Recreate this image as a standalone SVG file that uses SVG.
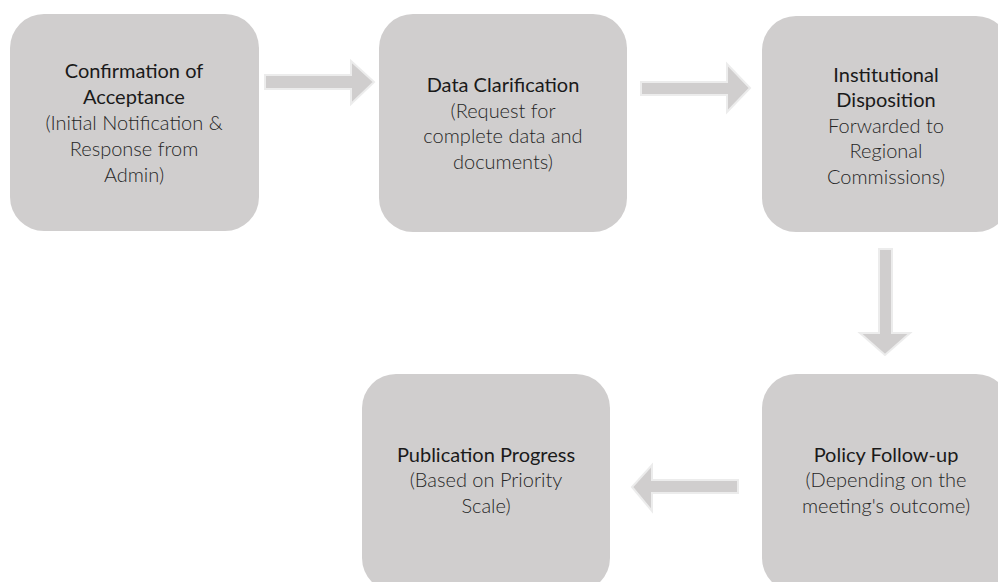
<svg xmlns="http://www.w3.org/2000/svg" width="998" height="582" viewBox="0 0 998 582">
<style>
.box{fill:#d0cece;}
.arr{fill:#d0cece;stroke:#ececec;stroke-width:2;stroke-linejoin:miter;}
text{font-family:Lato,"Liberation Sans",sans-serif;font-size:20px;text-anchor:middle;}
.t{fill:#1a1a1a;font-weight:400;}
.s{fill:#262626;font-weight:300;}
</style>
<rect width="998" height="582" fill="#ffffff"/>
<g id="connectors">
<polygon class="arr" points="265,75 351,75 351,61 374,82 351,104 351,89 265,89"/>
<polygon class="arr" points="641,82 727,82 727,64 750,88 727,112 727,95 641,95"/>
<polygon class="arr" points="879,249 892,249 892,333 910,333 885,355 860,333 879,333"/>
<polygon class="arr" points="738,480 652,480 652,465 632,487 652,511 652,493 738,493"/>
</g>
<g id="node1">
<rect class="box" x="10" y="14" width="249" height="217" rx="34"/>
<text class="t" x="134" y="78">Confirmation of</text>
<text class="t" x="134" y="104">Acceptance</text>
<text class="s" x="134" y="130">(Initial Notification &amp;</text>
<text class="s" x="134" y="156">Response from</text>
<text class="s" x="134" y="182">Admin)</text>
</g>
<g id="node2">
<rect class="box" x="379" y="14" width="248" height="218" rx="34"/>
<text class="t" x="503" y="92">Data Clarification</text>
<text class="s" x="503" y="118">(Request for</text>
<text class="s" x="503" y="143">complete data and</text>
<text class="s" x="503" y="169">documents)</text>
</g>
<g id="node3">
<rect class="box" x="762" y="16" width="248" height="216" rx="34"/>
<text class="t" x="886" y="82">Institutional</text>
<text class="t" x="886" y="107">Disposition</text>
<text class="s" x="886" y="133">Forwarded to</text>
<text class="s" x="886" y="158">Regional</text>
<text class="s" x="886" y="184">Commissions)</text>
</g>
<g id="node4">
<rect class="box" x="362" y="374" width="248" height="218" rx="34"/>
<text class="t" x="486" y="462">Publication Progress</text>
<text class="s" x="486" y="487">(Based on Priority</text>
<text class="s" x="486" y="513">Scale)</text>
</g>
<g id="node5">
<rect class="box" x="762" y="374" width="248" height="218" rx="34"/>
<text class="t" x="886" y="462">Policy Follow-up</text>
<text class="s" x="886" y="487">(Depending on the</text>
<text class="s" x="886" y="513">meeting's outcome)</text>
</g>
</svg>
